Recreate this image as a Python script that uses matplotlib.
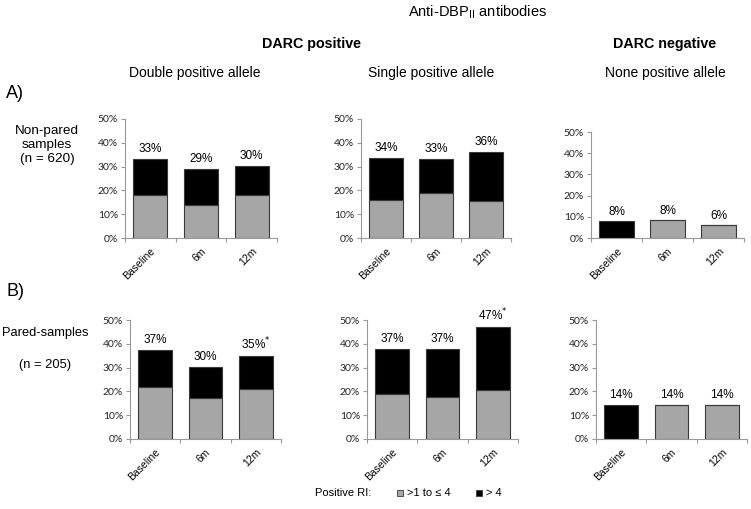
import matplotlib.pyplot as plt
import matplotlib.transforms as mtransforms

plt.rcParams['font.family'] = ['Liberation Sans', 'DejaVu Sans']

# data (percent of samples)
timepoints = ['Baseline', '6m', '12m']

# A) Non-pared samples
a_double_low = [18.0, 13.7, 18.0]
a_double_high = [15.2, 15.5, 12.3]
a_double_lbl = ['33%', '29%', '30%']

a_single_low = [15.8, 18.9, 15.6]
a_single_high = [17.8, 14.4, 20.5]
a_single_lbl = ['34%', '33%', '36%']

a_none_low = [0.0, 8.3, 5.9]
a_none_high = [7.8, 0.0, 0.0]
a_none_lbl = ['8%', '8%', '6%']

# B) Pared samples
b_double_low = [22.0, 17.3, 21.2]
b_double_high = [15.4, 12.9, 13.8]
b_double_lbl = ['37%', '30%', '35%*']

b_single_low = [19.0, 17.8, 20.6]
b_single_high = [18.7, 19.9, 26.6]
b_single_lbl = ['37%', '37%', '47%*']

b_none_low = [0.0, 14.3, 14.3]
b_none_high = [14.3, 0.0, 0.0]
b_none_lbl = ['14%', '14%', '14%']

GRAY = '#a6a6a6'
EDGE = '#3a3a3a'

fig = plt.figure(figsize=(7.51, 5.09), dpi=100)
W, H = 751, 509


def make_ax(left, right, top, bottom):
    return fig.add_axes([left / W, 1 - bottom / H, (right - left) / W, (bottom - top) / H])


def panel(ax, low, high, labels):
    x = list(range(len(timepoints)))
    ax.bar(x, low, width=0.67, color=GRAY, edgecolor=EDGE, linewidth=0.8)
    ax.bar(x, high, bottom=low, width=0.67, color='black', edgecolor=EDGE, linewidth=0.8)
    for xi, lo, hi, lb in zip(x, low, high, labels):
        tot = lo + hi
        if lb.endswith('*'):
            txt = lb[:-1] + '$^{*}$'
        else:
            txt = lb
        ax.text(xi, tot + 1.6, txt, ha='center', va='bottom', fontsize=8.5)
    ax.set_xlim(-0.5, 2.5)
    ax.set_ylim(0, 50)
    ax.set_yticks([0, 10, 20, 30, 40, 50])
    ax.set_yticklabels(['%d%%' % v for v in [0, 10, 20, 30, 40, 50]],
                       fontsize=7.5, family=['Lato', 'DejaVu Sans'], color='#222222')
    ax.set_xticks([-0.5, 0.5, 1.5, 2.5])
    ax.set_xticklabels([])
    ax.set_xticks(x, minor=True)
    ax.set_xticklabels(timepoints, minor=True, rotation=45, ha='right',
                       rotation_mode='anchor', fontsize=7.5)
    shift = mtransforms.ScaledTranslation(8 / 100, 0, fig.dpi_scale_trans)
    for lab in ax.get_xticklabels(minor=True):
        lab.set_transform(lab.get_transform() + shift)
    ax.tick_params(axis='x', which='minor', length=0, pad=6)
    ax.tick_params(axis='x', which='major', length=3, color='#999999', direction='out')
    ax.tick_params(axis='y', length=3, color='#999999', pad=2)
    for s in ['top', 'right']:
        ax.spines[s].set_visible(False)
    for s in ['left', 'bottom']:
        ax.spines[s].set_color('#999999')
        ax.spines[s].set_linewidth(0.8)


panel(make_ax(125, 277, 119, 238), a_double_low, a_double_high, a_double_lbl)
panel(make_ax(361, 511, 119, 238), a_single_low, a_single_high, a_single_lbl)
panel(make_ax(591, 744, 132, 238), a_none_low, a_none_high, a_none_lbl)
panel(make_ax(130, 281, 320, 439), b_double_low, b_double_high, b_double_lbl)
panel(make_ax(367, 518, 320, 439), b_single_low, b_single_high, b_single_lbl)
panel(make_ax(596, 747, 320, 439), b_none_low, b_none_high, b_none_lbl)


def ftext(px, py, s, **kw):
    fig.text(px / W, 1 - py / H, s, **kw)


ftext(478, 12, r'Anti-DBP$_{\mathrm{II}}$ antibodies', ha='center', va='center', fontsize=10.5)
ftext(312, 44, 'DARC positive', ha='center', va='center', fontsize=10.3, weight='bold')
ftext(665, 44, 'DARC negative', ha='center', va='center', fontsize=10.3, weight='bold')
ftext(195, 73, 'Double positive allele', ha='center', va='center', fontsize=10)
ftext(431, 73, 'Single positive allele', ha='center', va='center', fontsize=10)
ftext(665, 73, 'None positive allele', ha='center', va='center', fontsize=10)

ftext(6, 94, 'A)', ha='left', va='center', fontsize=13)
ftext(47, 145, 'Non-pared\nsamples\n(n = 620)', ha='center', va='center', fontsize=9.7,
      linespacing=1.2)
ftext(6, 291, 'B)', ha='left', va='center', fontsize=13)
ftext(45, 333, 'Pared-samples', ha='center', va='center', fontsize=9.3)
ftext(45, 365, '(n = 205)', ha='center', va='center', fontsize=9.3)

# legend
ftext(315, 493, 'Positive RI:', ha='left', va='center', fontsize=8)
fig.patches.append(plt.Rectangle((397 / W, 1 - 496 / H), 6 / W, 6 / H, transform=fig.transFigure,
                                 facecolor=GRAY, edgecolor=EDGE, linewidth=0.6))
ftext(407, 493, '>1 to \u2264 4', ha='left', va='center', fontsize=8)
fig.patches.append(plt.Rectangle((476 / W, 1 - 496 / H), 6 / W, 6 / H, transform=fig.transFigure,
                                 facecolor='black', edgecolor=EDGE, linewidth=0.6))
ftext(486, 493, '> 4', ha='left', va='center', fontsize=8)

fig.savefig('out.png', dpi=100)
